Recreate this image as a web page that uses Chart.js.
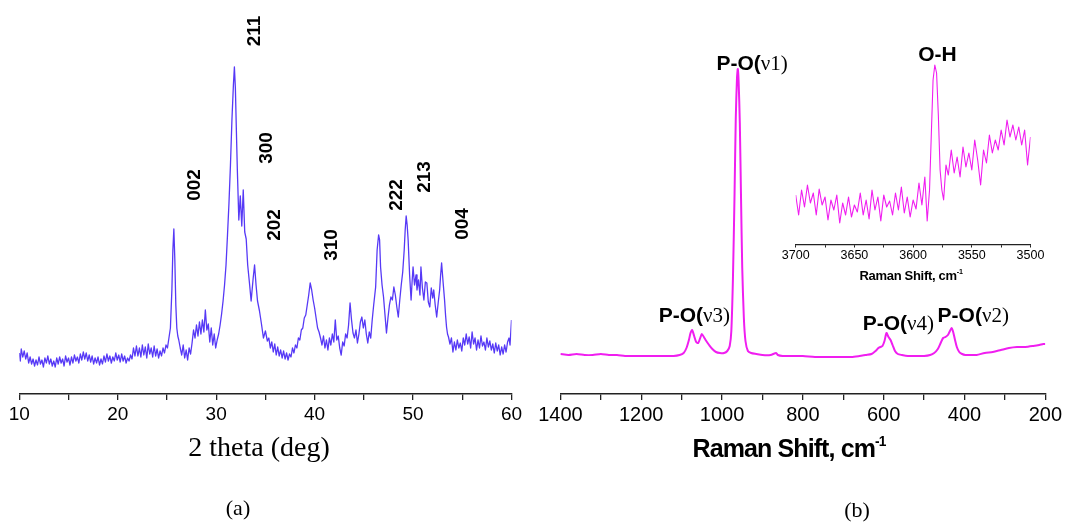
<!DOCTYPE html>
<html>
<head>
<meta charset="utf-8">
<script src="https://cdn.jsdelivr.net/npm/chart.js@4.4.1/dist/chart.umd.min.js"></script>
<style>
html,body{margin:0;padding:0;background:#fff;}
body{width:1065px;height:525px;overflow:hidden;position:relative;font-family:"Liberation Sans",Arial,sans-serif;}
canvas{position:absolute;}
#cA{left:0;top:0;}
#cB{left:530px;top:0;}
#cI{left:760px;top:30px;}
.t{position:absolute;white-space:nowrap;line-height:1;color:#000;transform:translate(-50%,-50%);}
.rot{font-weight:bold;font-size:19px;transform:translate(-50%,-50%) rotate(-90deg);}
.pk{font-size:21px;}
.pk b{font-weight:bold;}
.pk span{font-family:"Liberation Serif","Times New Roman",serif;}
sup{font-size:0.55em;line-height:0;vertical-align:0.75em;}
</style>
</head>
<body>
<canvas id="cA" width="530" height="525"></canvas>
<canvas id="cB" width="535" height="525"></canvas>
<canvas id="cI" width="300" height="270"></canvas>

<div class="t" style="left:259px;top:447px;font-family:'Liberation Serif',serif;font-size:28px;">2 theta (deg)</div>
<div class="t" style="left:238px;top:508px;font-family:'Liberation Serif',serif;font-size:22px;">(a)</div>
<div class="t" style="left:789px;top:448px;font-weight:bold;font-size:25px;letter-spacing:-0.9px;">Raman Shift, cm<sup>-1</sup></div>
<div class="t" style="left:857px;top:510px;font-family:'Liberation Serif',serif;font-size:22px;">(b)</div>
<div class="t" style="left:911px;top:275px;font-weight:bold;font-size:13px;letter-spacing:-0.3px;">Raman Shift, cm<sup>-1</sup></div>
<div id="labels"></div>

<script>
// ---------- Panel (a): XRD ----------
const xrdTheta = [
10.0,10.1,10.2,10.35,10.5,10.65,10.8,10.95,11.1,11.25,
11.4,11.55,11.7,11.85,12.0,12.15,12.3,12.45,12.6,12.75,
12.9,13.05,13.2,13.35,13.5,13.65,13.8,13.95,14.1,14.25,
14.4,14.55,14.7,14.85,15.0,15.15,15.3,15.45,15.6,15.75,
15.9,16.05,16.2,16.35,16.5,16.65,16.8,16.95,17.1,17.25,
17.4,17.55,17.7,17.85,18.0,18.15,18.3,18.45,18.6,18.75,
18.9,19.05,19.2,19.35,19.5,19.65,19.8,19.95,20.1,20.25,
20.4,20.55,20.7,20.85,21.0,21.15,21.3,21.45,21.6,21.75,
21.9,22.05,22.2,22.35,22.5,22.65,22.8,22.95,23.1,23.25,
23.4,23.55,23.7,23.85,24.0,24.15,24.3,24.45,24.6,24.75,
24.9,25.05,25.2,25.35,25.5,25.6,25.7,25.8,25.9,26.0,
26.1,26.2,26.35,26.5,26.65,26.8,26.95,27.1,27.25,27.4,
27.55,27.7,27.85,28.0,28.15,28.3,28.45,28.6,28.75,28.9,
29.05,29.2,29.35,29.5,29.65,29.8,29.95,30.1,30.25,30.4,
30.55,30.7,30.85,31.0,31.15,31.3,31.45,31.6,31.75,31.85,
31.95,32.05,32.15,32.3,32.45,32.6,32.75,32.9,33.05,33.2,
33.4,33.55,33.75,33.9,34.05,34.2,34.4,34.6,34.8,35.0,
35.2,35.35,35.5,35.65,35.8,35.95,36.1,36.25,36.4,36.55,
36.7,36.85,37.0,37.15,37.3,37.45,37.6,37.75,37.9,38.05,
38.2,38.35,38.5,38.65,38.8,38.95,39.1,39.25,39.4,39.55,
39.7,39.85,40.0,40.15,40.3,40.45,40.6,40.75,40.9,41.05,
41.2,41.35,41.5,41.65,41.8,41.95,42.1,42.25,42.4,42.55,
42.7,42.85,43.0,43.15,43.3,43.45,43.6,43.75,43.9,44.05,
44.2,44.35,44.5,44.65,44.8,44.95,45.1,45.25,45.4,45.55,
45.7,45.85,46.0,46.2,46.35,46.5,46.6,46.7,46.85,47.0,
47.15,47.3,47.45,47.6,47.75,47.9,48.05,48.2,48.35,48.5,
48.65,48.8,48.95,49.1,49.2,49.3,49.4,49.5,49.65,49.8,
49.9,50.0,50.15,50.3,50.4,50.55,50.7,50.8,50.95,51.1,
51.25,51.4,51.55,51.7,51.85,52.0,52.1,52.25,52.4,52.55,
52.7,52.8,52.9,53.05,53.2,53.3,53.4,53.5,53.6,53.75,
53.9,54.05,54.2,54.35,54.5,54.65,54.8,54.95,55.1,55.25,
55.4,55.55,55.7,55.85,56.0,56.15,56.3,56.45,56.6,56.75,
56.9,57.05,57.2,57.35,57.5,57.65,57.8,57.95,58.1,58.25,
58.4,58.55,58.7,58.85,59.0,59.15,59.3,59.45,59.6,59.75,
59.85,60.0];
const xrdIntensity = [
47,39,51,43,49,41,47,37,43,36,
41,34,40,35,43,36,40,33,42,37,
44,36,41,34,39,33,42,36,43,37,
41,34,44,38,42,35,43,37,45,39,
43,37,46,40,48,41,47,39,45,38,
44,36,42,37,43,35,41,36,44,38,
46,39,44,37,43,39,47,40,45,38,
46,39,44,37,42,39,45,41,52,44,
54,44,52,43,55,45,53,42,56,46,
52,43,54,44,51,42,49,44,52,47,
55,52,62,72,110,150,171,140,95,72,
64,60,52,45,55,42,50,40,52,46,
57,70,62,75,64,78,66,80,68,90,
70,76,58,72,55,66,52,60,66,75,
86,99,115,135,165,197,235,280,315,333,
312,270,230,180,204,174,210,168,161,135,
115,99,121,135,115,99,89,76,62,69,
59,62,52,58,48,56,45,53,44,50,
42,49,41,47,40,46,43,52,47,55,
52,62,60,70,72,82,85,95,105,117,
110,100,92,82,72,68,62,55,64,52,
60,50,62,55,66,58,80,60,64,52,
45,58,54,66,62,75,97,80,67,62,
70,57,66,78,83,72,80,66,57,68,
62,80,95,113,150,165,160,133,115,103,
85,67,82,95,103,100,113,105,93,83,
100,115,128,150,170,184,175,160,125,100,
118,133,115,125,110,120,105,133,112,100,
118,117,98,93,112,102,110,95,83,97,
110,125,137,118,100,85,73,66,63,56,
62,48,58,50,60,52,57,49,62,55,
66,56,63,52,68,56,62,50,60,52,
64,54,58,50,62,53,59,50,56,47,
57,49,55,45,53,46,55,48,58,62,
55,80];
const xrdTicks = [10,15,20,25,30,35,40,45,50,55,60];
const xrdTickLabels = [10,20,30,40,50,60];
const xrdPeakNames = ['211','300','002','202','310','222','213','004'];
const xrdPeakPos = [33.73,34.92,27.6,35.79,41.52,48.16,51.05,54.85];
const xrdPeakLabelHeight = [369,252.5,215,175,155,205,222.7,176.3];

// ---------- Panel (b): Raman ----------
const ramanShift = [
1400,1380,1360,1340,1320,1300,1280,1260,1240,1220,
1200,1180,1160,1140,1120,1105,1095,1088,1082,1078,
1074,1069,1064,1059,1054,1050,1045,1039,1032,1024,
1015,1005,995,987,981,977,973,969,966,963,
961,959,956,953,950,946,942,936,928,915,
900,880,866,862,850,820,800,770,740,710,
680,660,645,630,620,613,608,603,598,593,
588,583,578,572,565,555,540,520,500,485,
475,466,459,453,447,441,436,432,428,424,
419,413,406,398,385,370,350,330,310,290,
270,250,230,215,205,200];
const ramanIntensity = [
49,48,49,48,48,49,48,48,47,47,
47,47,47,47,47,48,50,55,63,70,
73,67,61,60,65,69,66,62,58,54,
51,50,50,52,57,72,125,210,285,325,
334,322,280,205,135,85,62,52,50,49,
48,48,50,48,47,47,47,46,46,46,
46,47,48,49,52,55,56,57,62,70,
66,63,58,52,49,48,47,47,47,48,
50,54,60,65,66,68,72,75,71,64,
56,51,49,48,48,48,50,51,53,55,
56,56,57,58,59,59];
const ramanTicks = [1400,1300,1200,1100,1000,900,800,700,600,500,400,300,200];
const ramanTickLabels = [1400,1200,1000,800,600,400,200];
const ramanPeakNames = [['P-O(','ν1)'],['P-O(','ν3)'],['P-O(','ν4)'],['P-O(','ν2)']];
const ramanPeakPos = [925.7,1068.6,563.7,378.3];
const ramanPeakLabelHeight = [340,88,80,88];

// ---------- Inset: O-H region ----------
const insetShift = [
3700,3697.5,3695,3692.5,3690,3687.5,3685,3682.5,3680,3677.5,
3675,3672.5,3670,3667.5,3665,3662.5,3660,3657.5,3655,3652.5,
3650,3647.5,3645,3642.5,3640,3637.5,3635,3632.5,3630,3627.5,
3625,3622.5,3620,3617.5,3615,3612.5,3610,3607.5,3605,3602.5,
3600,3597.5,3595,3592.5,3590,3588,3586,3584.5,3583,3581.5,
3580,3578.5,3577,3575.5,3574,3572,3570,3567.5,3565,3562.5,
3560,3557.5,3555,3552.5,3550,3547.5,3545,3542.5,3540,3537.5,
3535,3532.5,3530,3527.5,3525,3522.5,3520,3517.5,3515,3512.5,
3510,3507.5,3505,3502.5,3500];
const insetIntensity = [
50,30,55,38,60,42,52,30,56,40,
48,25,45,35,50,22,42,30,48,28,
40,33,52,30,45,26,55,35,48,24,
50,38,44,30,52,35,58,32,48,28,
45,36,62,40,68,24,55,110,165,180,
172,130,75,55,45,80,70,95,72,88,
68,98,78,92,75,105,85,60,95,82,
110,92,105,95,115,100,125,108,120,105,
118,100,115,80,108];
const insetTicks = [3700,3675,3650,3625,3600,3575,3550,3525,3500];
const insetTickLabels = [3700,3650,3600,3550,3500];
const insetPeakName = 'O-H';
const insetPeakPos = 3579.3;
const insetPeakLabelHeight = 192;

// ---------- helpers ----------
const SANS = '"Liberation Sans", Arial, sans-serif';
function xAxis(o){
  return {
    type:'linear', min:o.min, max:o.max, reverse:!!o.reverse,
    afterBuildTicks(scale){ scale.ticks = o.ticks.map(v=>({value:v})); },
    ticks:{autoSkip:false,maxRotation:0,minRotation:0,padding:o.pad,color:'#000',
      font:{family:SANS,size:o.fs},
      callback:(v)=> o.labels.includes(v) ? String(v) : ''},
    grid:{display:true,drawOnChartArea:false,drawTicks:true,tickLength:o.tl,color:'#222',lineWidth:o.lw},
    border:{display:true,color:'#222',width:o.bw},
    afterFit(scale){ scale.height = o.h; }
  };
}
function pts(xs,ys){ return xs.map((x,i)=>({x:x,y:ys[i]})); }
function baseOpts(){
  return {responsive:false,animation:false,events:[],
    plugins:{legend:{display:false},tooltip:{enabled:false}}};
}

const chartA = new Chart(document.getElementById('cA'),{
  type:'line',
  data:{datasets:[{data:pts(xrdTheta,xrdIntensity),borderColor:'rgba(72,40,245,0.92)',borderWidth:1.3,
    pointRadius:0,tension:0,borderJoinStyle:'round'}]},
  options:Object.assign(baseOpts(),{
    layout:{padding:{left:19.3,right:18.5,top:45,bottom:0}},
    scales:{
      x:xAxis({min:10,max:60,ticks:xrdTicks,labels:xrdTickLabels,fs:19,pad:3,tl:6,lw:1.3,bw:1.6,h:131}),
      y:{display:false,min:6,max:355}
    }
  })
});

const chartB = new Chart(document.getElementById('cB'),{
  type:'line',
  data:{datasets:[{data:pts(ramanShift,ramanIntensity),borderColor:'#f01ef0',borderWidth:2,
    pointRadius:0,tension:0.25,borderJoinStyle:'round'}]},
  options:Object.assign(baseOpts(),{
    layout:{padding:{left:30.4,right:17.6,top:43,bottom:0}},
    scales:{
      x:xAxis({min:200,max:1400,reverse:true,ticks:ramanTicks,labels:ramanTickLabels,fs:20,pad:3,tl:6,lw:1.3,bw:1.6,h:131}),
      y:{display:false,min:9,max:360}
    }
  })
});

const chartI = new Chart(document.getElementById('cI'),{
  type:'line',
  data:{datasets:[{data:pts(insetShift,insetIntensity),borderColor:'#f01ef0',borderWidth:1.1,
    pointRadius:0,tension:0,borderJoinStyle:'round'}]},
  options:Object.assign(baseOpts(),{
    layout:{padding:{left:35.7,right:29.5,top:15,bottom:0}},
    scales:{
      x:xAxis({min:3500,max:3700,reverse:true,ticks:insetTicks,labels:insetTickLabels,fs:12.5,pad:1,tl:3,lw:1,bw:1.2,h:55.5}),
      y:{display:false,min:0.5,max:200}
    }
  })
});

// ---------- peak labels, anchored through the charts' scales ----------
const box = document.getElementById('labels');
function place(chart, offX, offY, xv, yv, html, cls){
  const d = document.createElement('div');
  d.className = 't ' + cls;
  d.innerHTML = html;
  d.style.left = (offX + chart.scales.x.getPixelForValue(xv)) + 'px';
  d.style.top = (offY + chart.scales.y.getPixelForValue(yv)) + 'px';
  box.appendChild(d);
}
xrdPeakNames.forEach((n,i)=>place(chartA,0,0,xrdPeakPos[i],xrdPeakLabelHeight[i],n,'rot'));
ramanPeakNames.forEach((n,i)=>place(chartB,530,0,ramanPeakPos[i],ramanPeakLabelHeight[i],
  '<b>'+n[0]+'</b><span>'+n[1]+'</span>','pk'));
place(chartI,760,30,insetPeakPos,insetPeakLabelHeight,'<b>'+insetPeakName+'</b>','pk');
</script>
</body>
</html>
